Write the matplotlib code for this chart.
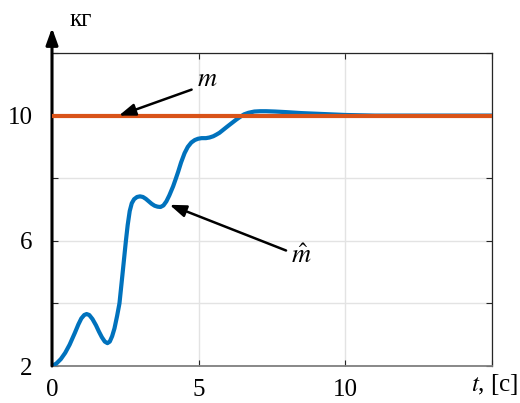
import matplotlib
matplotlib.use("Agg")
import matplotlib.pyplot as plt

# estimate of the mass
t_hat = [0.0, 0.15, 0.3, 0.45, 0.6, 0.78, 0.9, 1.0, 1.1, 1.18, 1.27, 1.38,
         1.5, 1.6, 1.7, 1.8, 1.89, 1.97, 2.05, 2.13, 2.22, 2.30, 2.4, 2.46,
         2.52, 2.58, 2.65, 2.72, 2.8, 2.9, 3.0, 3.1, 3.2, 3.3, 3.4, 3.5,
         3.6, 3.7, 3.8, 3.9, 4.0, 4.13, 4.22, 4.3, 4.4, 4.52, 4.63, 4.75,
         4.87, 4.98, 5.1, 5.25, 5.37, 5.5, 5.6, 5.71, 5.83, 5.95, 6.1, 6.28,
         6.4, 6.55, 6.7, 6.9, 7.1, 7.3, 7.6, 8.0, 8.5, 9.0, 9.5, 10.0,
         10.5, 11.0, 15.0]
m_hat = [2.0, 2.08, 2.22, 2.42, 2.68, 3.06, 3.33, 3.52, 3.63, 3.66, 3.63, 3.5,
         3.3, 3.1, 2.92, 2.78, 2.73, 2.78, 2.95, 3.2, 3.6, 4.0, 4.9, 5.45,
         6.0, 6.5, 6.95, 7.2, 7.33, 7.4, 7.42, 7.4, 7.34, 7.26, 7.18, 7.12,
         7.09, 7.08, 7.13, 7.26, 7.45, 7.74, 7.98, 8.2, 8.5, 8.8, 9.0, 9.14,
         9.22, 9.26, 9.28, 9.28, 9.3, 9.34, 9.39, 9.45, 9.54, 9.63, 9.74, 9.87,
         9.95, 10.04, 10.09, 10.13, 10.14, 10.14, 10.13, 10.11, 10.08, 10.06, 10.04, 10.02,
         10.01, 10.0, 10.0]

# true mass
t_true = [0, 15]
m_true = [10, 10]

x_ticks = [0, 5, 10, 15]
x_labels = ["0", "5", "10", ""]
y_ticks = [2, 4, 6, 8, 10, 12]
y_labels = ["2", "", "6", "", "10", ""]

plt.rcParams["font.family"] = ["Liberation Serif", "DejaVu Serif"]
plt.rcParams["mathtext.fontset"] = "stix"

fig = plt.figure(figsize=(5.2, 4.03), dpi=100)
ax = fig.add_axes([0.1, 0.0918, 0.846, 0.7767])

ax.plot(t_hat, m_hat, color="#0072BD", lw=3.0, zorder=3,
        solid_capstyle="round", solid_joinstyle="round")
ax.plot(t_true, m_true, color="#D95319", lw=3.0, zorder=4)

ax.set_xlim(0, 15)
ax.set_ylim(2, 12)
ax.set_xticks(x_ticks, x_labels)
ax.set_yticks(y_ticks, y_labels)
ax.grid(True, color="#e3e3e3", lw=1)
ax.set_axisbelow(True)
ax.tick_params(direction="in", length=4, width=0.8, color="#262626",
               labelsize=18, labelcolor="black", top=True, right=True)
ax.tick_params(axis="x", pad=9)
ax.tick_params(axis="y", pad=14)

ax.spines["left"].set_visible(False)
for s in ["top", "right"]:
    ax.spines[s].set_color("#262626")
    ax.spines[s].set_linewidth(0.9)
ax.spines["bottom"].set_color("#7f7f7f")
ax.spines["bottom"].set_linewidth(1.3)

# y axis drawn as an arrow
ax.annotate("", xy=(0, 1.08), xytext=(0, 0), xycoords="axes fraction",
            textcoords="axes fraction", annotation_clip=False,
            arrowprops=dict(arrowstyle="-|>,head_length=0.5,head_width=0.18",
                            color="black", lw=2.2, mutation_scale=20,
                            shrinkA=0, shrinkB=0))

# labels with arrows
arrow = dict(arrowstyle="-|>,head_length=0.55,head_width=0.2", color="black",
             lw=1.8, mutation_scale=18, shrinkA=0, shrinkB=0)
ax.annotate("", xy=(2.28, 10.0), xytext=(4.76, 10.83), arrowprops=arrow, zorder=5)
ax.text(5.31, 11.15, "$m$", fontsize=19, ha="center", va="center")
ax.annotate("", xy=(4.01, 7.15), xytext=(7.98, 5.69), arrowprops=arrow, zorder=5)
ax.text(8.49, 5.5, r"$\hat{m}$", fontsize=19, ha="center", va="center")

fig.text(0.155, 0.95, "кг", ha="center", va="center", fontsize=18)
fig.text(0.997, 0.045, "$t$, [c]", ha="right", va="center", fontsize=18)

fig.savefig("out.png", dpi=100)
